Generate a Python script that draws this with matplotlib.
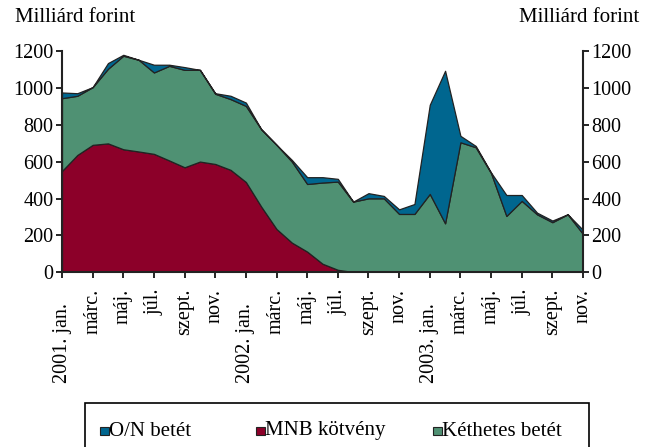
import numpy as np
import matplotlib
matplotlib.use("Agg")
import matplotlib.pyplot as plt
import matplotlib.transforms as mtransforms
from matplotlib.patches import Rectangle

plt.rcParams['font.family'] = ['Liberation Serif', 'DejaVu Serif']

# monthly data, 2001 jan - 2003 nov (milliard forint)
mnb_kotveny = [550, 637, 692, 700, 668, 656, 643, 607, 570, 601, 588, 556,
               490, 356, 234, 160, 111, 45, 12, 0, 0, 0, 0, 0,
               0, 0, 0, 0, 0, 0, 0, 0, 0, 0, 0]
# cumulative top of kéthetes betét (mnb + kéthetes)
kethetes_top = [946, 959, 1006, 1106, 1177, 1155, 1086, 1122, 1100, 1100, 970, 941,
                904, 777, 692, 601, 479, 487, 492, 383, 401, 401, 316, 316,
                425, 265, 706, 679, 538, 305, 387, 314, 271, 314, 207]
# cumulative total (all three)
total = [977, 973, 1006, 1137, 1182, 1155, 1128, 1128, 1115, 1100, 973, 959,
         922, 777, 692, 610, 516, 516, 507, 383, 429, 414, 341, 370,
         910, 1095, 741, 686, 541, 419, 419, 323, 280, 314, 229]

kethetes = [k - m for k, m in zip(kethetes_top, mnb_kotveny)]
on_betet = [t - k for t, k in zip(total, kethetes_top)]

tick_labels = ['2001. jan.', 'márc.', 'máj.', 'júl.', 'szept.', 'nov.',
               '2002. jan.', 'márc.', 'máj.', 'júl.', 'szept.', 'nov.',
               '2003. jan.', 'márc.', 'máj.', 'júl.', 'szept.', 'nov.']
legend_labels = ['O/N betét', 'MNB kötvény', 'Kéthetes betét']

c_blue = '#00668f'
c_red = '#8c0029'
c_green = '#4f9173'

x = np.arange(len(mnb_kotveny))
fs = 15

fig = plt.figure(figsize=(6.52, 4.47), dpi=100)
ax = fig.add_axes([62 / 652, 1 - 272 / 447, (583 - 62) / 652, (272 - 51.5) / 447])

ax.stackplot(x, mnb_kotveny, kethetes, on_betet,
             colors=[c_red, c_green, c_blue], edgecolor='#222222', linewidth=0.9)

ax.set_xlim(0, len(x) - 1)
ax.set_ylim(0, 1200)
ax.set_yticks(range(0, 1201, 200))
ax.set_xticks(x[::2])
ax.set_xticklabels(tick_labels, rotation=90, fontsize=14.5)
ax.tick_params(axis='y', labelsize=14.5, left=True, right=True, labelleft=True, labelright=True,
               length=4, width=1.2, pad=2)
ax.tick_params(axis='x', length=4, width=1.2, pad=8)
ax.spines['top'].set_visible(False)
for s in ['left', 'right', 'bottom']:
    ax.spines[s].set_linewidth(1.5)
    ax.spines[s].set_color('#222222')

# year labels sit a bit lower than the month labels
shift = mtransforms.ScaledTranslation(0, -14 / 100, fig.dpi_scale_trans)
for lab in ax.get_xticklabels():
    if lab.get_text().startswith('20'):
        lab.set_transform(lab.get_transform() + shift)

fig.text(15 / 652, 1 - 18 / 447, 'Milliárd forint', fontsize=fs, va='center', ha='left')
fig.text(639 / 652, 1 - 18 / 447, 'Milliárd forint', fontsize=fs, va='center', ha='right')

# legend frame (runs off the bottom of the figure)
fig.patches.append(Rectangle((85 / 652, -0.05), (589 - 85) / 652, 0.05 + 1 - 403 / 447,
                             transform=fig.transFigure, fill=False, edgecolor='black',
                             linewidth=1.2, clip_on=False))
leg_x = [100, 256, 433]
for lx, lab, c in zip(leg_x, legend_labels, [c_blue, c_red, c_green]):
    fig.patches.append(Rectangle((lx / 652, 1 - 435 / 447), 8.5 / 652, 8.5 / 447,
                                 transform=fig.transFigure, facecolor=c,
                                 edgecolor='#222222', linewidth=0.8))
    fig.text((lx + 9) / 652, 1 - 431 / 447, lab, fontsize=fs, va='center', ha='left')

fig.savefig('out.png', dpi=100)
